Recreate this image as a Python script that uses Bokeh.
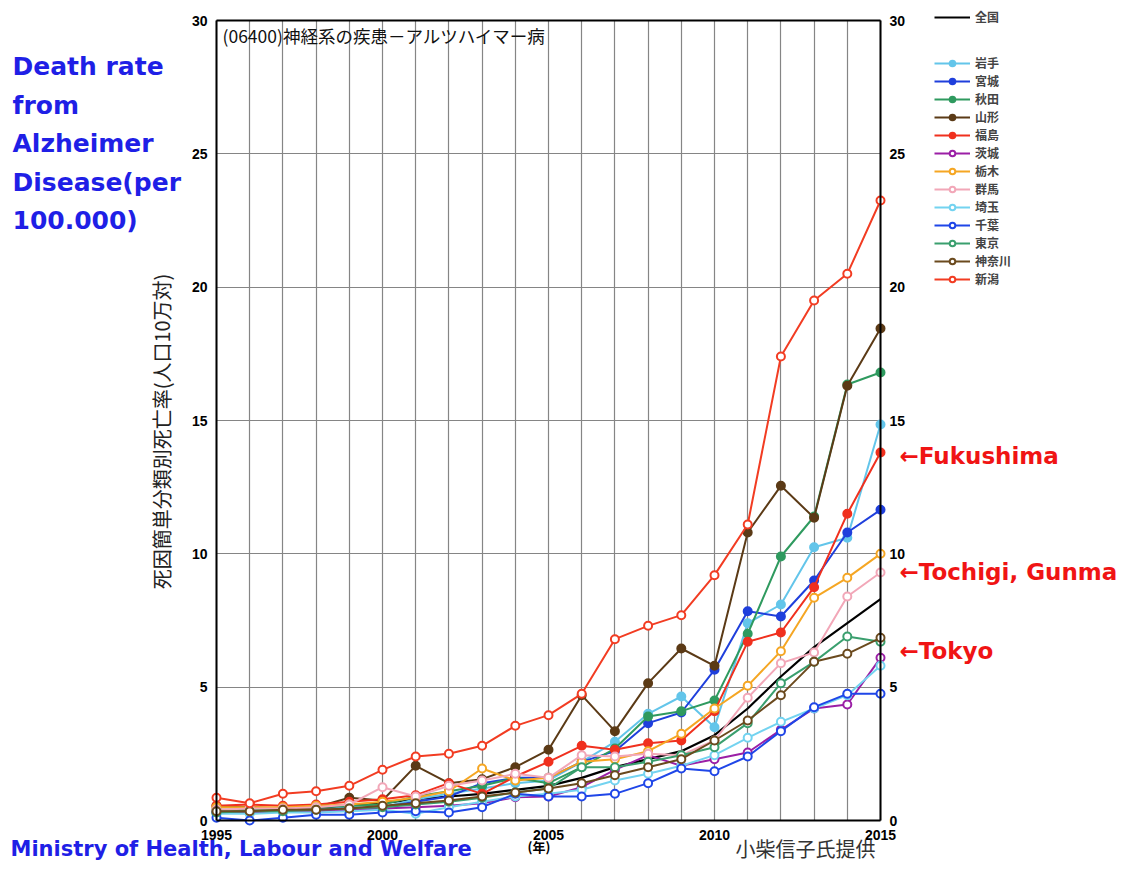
import math
from bokeh.plotting import figure
from bokeh.models import Range1d, FixedTicker, LinearAxis, Legend, LegendItem, Label, Grid
from bokeh.embed import file_html
from bokeh.resources import INLINE

years = list(range(1995, 2016))

national = [0.3, 0.35, 0.4, 0.45, 0.55, 0.65, 0.8, 0.9, 1.0, 1.15, 1.3, 1.6, 2.0, 2.3, 2.6, 3.2, 4.2, 5.4, 6.5, 7.4, 8.3]
iwate = [0.3, 0.35, 0.4, 0.4, 0.5, 0.5, 0.8, 1.0, 1.2, 1.4, 1.5, 2.2, 2.95, 4.0, 4.65, 3.5, 7.4, 8.1, 10.25, 10.6, 14.85]
miyagi = [0.3, 0.3, 0.35, 0.4, 0.45, 0.5, 0.7, 0.9, 1.4, 1.6, 1.6, 2.2, 2.6, 3.65, 4.05, 5.65, 7.85, 7.65, 9.0, 10.8, 11.65]
akita = [0.4, 0.4, 0.45, 0.5, 0.55, 0.6, 0.9, 1.1, 1.3, 1.6, 1.4, 2.0, 2.7, 3.9, 4.1, 4.5, 7.0, 9.9, 11.4, 16.35, 16.8]
yamagata = [0.55, 0.5, 0.45, 0.5, 0.85, 0.75, 2.05, 1.4, 1.55, 2.0, 2.65, 4.7, 3.35, 5.15, 6.45, 5.8, 10.8, 12.55, 11.35, 16.3, 18.45]
fukushima = [0.55, 0.6, 0.55, 0.6, 0.7, 0.8, 0.95, 1.4, 1.0, 1.65, 2.2, 2.8, 2.65, 2.9, 3.0, 4.1, 6.7, 7.05, 8.75, 11.5, 13.8]
ibaraki = [0.3, 0.3, 0.35, 0.35, 0.4, 0.45, 0.5, 0.55, 0.65, 0.87, 0.9, 1.25, 1.9, 2.45, 2.05, 2.3, 2.55, 3.4, 4.2, 4.35, 6.1]
tochigi = [0.5, 0.5, 0.5, 0.55, 0.6, 0.7, 0.85, 1.1, 1.95, 1.5, 1.6, 2.2, 2.3, 2.6, 3.25, 4.2, 5.05, 6.35, 8.35, 9.1, 10.0]
gunma = [0.4, 0.45, 0.45, 0.5, 0.6, 1.25, 0.9, 1.3, 1.5, 1.75, 1.6, 2.45, 2.4, 2.5, 2.45, 3.0, 4.6, 5.9, 6.3, 8.4, 9.3]
saitama = [0.25, 0.25, 0.3, 0.3, 0.35, 0.4, 0.25, 0.5, 0.7, 0.9, 1.0, 1.15, 1.5, 1.75, 2.05, 2.45, 3.1, 3.7, 4.2, 4.7, 5.8]
chiba = [0.1, 0.0, 0.1, 0.22, 0.22, 0.3, 0.35, 0.3, 0.5, 1.0, 0.9, 0.9, 1.0, 1.4, 1.95, 1.85, 2.4, 3.35, 4.25, 4.75, 4.75]
tokyo = [0.3, 0.35, 0.35, 0.4, 0.45, 0.5, 0.6, 0.7, 0.85, 1.05, 1.2, 2.0, 2.0, 2.2, 2.45, 2.75, 3.65, 5.15, 5.95, 6.9, 6.7]
kanagawa = [0.35, 0.35, 0.4, 0.4, 0.45, 0.55, 0.65, 0.75, 0.9, 1.05, 1.2, 1.4, 1.7, 2.0, 2.3, 3.0, 3.75, 4.7, 5.95, 6.25, 6.85]
niigata = [0.85, 0.65, 1.0, 1.1, 1.3, 1.9, 2.4, 2.5, 2.8, 3.55, 3.95, 4.75, 6.8, 7.3, 7.7, 9.2, 11.1, 17.4, 19.5, 20.5, 23.25]

names = ["岩手", "宮城", "秋田", "山形", "福島", "茨城", "栃木", "群馬", "埼玉", "千葉", "東京", "神奈川", "新潟"]
values = [iwate, miyagi, akita, yamagata, fukushima, ibaraki, tochigi, gunma, saitama, chiba, tokyo, kanagawa, niigata]
colors = ["#63c5ea", "#1f3fdc", "#2f9a5f", "#5b3a16", "#f0301e", "#9b1fa6", "#f5a623",
          "#f2a7b8", "#73d3f0", "#1f46e8", "#3a9f6e", "#6b4a1e", "#f23c22"]
filled = [True, True, True, True, True, False, False, False, False, False, False, False, False]

x_ticks = [1995, 2000, 2005, 2010, 2015]
y_ticks = [0, 5, 10, 15, 20, 25, 30]

title_text = "(06400)神経系の疾患－アルツハイマー病"
ylabel_text = "死因簡単分類別死亡率(人口10万対)"

# ---- geometry (figure pixels) ----
W, H = 1119, 863
X0, X1 = 1995, 2015
Y0, Y1 = 0, 30
PL, PR = 216, 880   # chart-area left/right in figure px
PT, PB = 20, 820    # chart-area top/bottom in figure px
sx = (PR - PL) / (X1 - X0)
sy = (PB - PT) / (Y1 - Y0)

p = figure(width=W, height=H, output_backend="svg", toolbar_location=None,
           x_range=Range1d(X0 - PL / sx, X1 + (W - PR) / sx),
           y_range=Range1d(Y0 - (H - PB) / sy, Y1 + PT / sy),
           x_axis_location=None, y_axis_location=None,
           min_border=0, min_border_left=0, min_border_right=0, min_border_top=0, min_border_bottom=0,
           background_fill_color="white", border_fill_color="white")
p.outline_line_color = None
p.xgrid.visible = False
p.ygrid.visible = False

# grid lines limited to chart area
has_cross = "cross_bounds" in Grid.properties()
if has_cross:
    gx = Grid(dimension=0, ticker=FixedTicker(ticks=years), bounds=(X0, X1), cross_bounds=(Y0, Y1),
              grid_line_color="#858585", grid_line_width=1.2)
    gy = Grid(dimension=1, ticker=FixedTicker(ticks=y_ticks), bounds=(Y0, Y1), cross_bounds=(X0, X1),
              grid_line_color="#858585", grid_line_width=1.2)
    p.add_layout(gx)
    p.add_layout(gy)
else:
    p.segment(x0=years, y0=[Y0] * len(years), x1=years, y1=[Y1] * len(years),
              line_color="#858585", line_width=1.2)
    p.segment(x0=[X0] * len(y_ticks), y0=y_ticks, x1=[X1] * len(y_ticks), y1=y_ticks,
              line_color="#858585", line_width=1.2)

# axes drawn at fixed locations around the chart area
ax_left = LinearAxis(ticker=FixedTicker(ticks=y_ticks), fixed_location=X0, bounds=(Y0, Y1))
ax_right = LinearAxis(ticker=FixedTicker(ticks=y_ticks), fixed_location=X1, bounds=(Y0, Y1))
ax_bottom = LinearAxis(ticker=FixedTicker(ticks=x_ticks), fixed_location=Y0, bounds=(X0, X1))
ax_top = LinearAxis(ticker=FixedTicker(ticks=[]), fixed_location=Y1, bounds=(X0, X1))
p.add_layout(ax_left, "left")
p.add_layout(ax_right, "right")
p.add_layout(ax_bottom, "below")
p.add_layout(ax_top, "above")

for ax in [ax_left, ax_right, ax_bottom, ax_top]:
    ax.axis_line_color = "black"
    ax.axis_line_width = 2
    ax.major_tick_line_color = None
    ax.minor_tick_line_color = None
    ax.major_label_text_font = "Liberation Sans"
    ax.major_label_text_font_style = "bold"
    ax.major_label_text_font_size = "14px"
    ax.major_label_text_color = "black"
    ax.major_label_standoff = 3
ax_top.major_label_text_alpha = 0

# national line
nat_r = p.line(years, national, line_color="black", line_width=2.2)

items = []
for name, vals, col, fl in zip(names, values, colors, filled):
    lr = p.line(years, vals, line_color=col, line_width=2)
    sr = p.scatter(years, vals, marker="circle", size=8, line_color=col, line_width=2,
                   fill_color=col if fl else "white")
    items.append(LegendItem(label=name, renderers=[lr, sr]))

leg_font = "Noto Sans CJK JP"
common = dict(orientation="vertical", padding=0, margin=0, spacing=1,
              glyph_width=36, glyph_height=14, label_height=14, label_standoff=5,
              border_line_color=None, background_fill_alpha=0,
              label_text_font=leg_font, label_text_font_size="12px", label_text_font_style="bold")
leg1 = Legend(items=[LegendItem(label="全国", renderers=[nat_r])], location=(934, H - 25), **common)
leg2 = Legend(items=items, location=(934, H - 287), **common)
p.add_layout(leg1)
p.add_layout(leg2)


def dx(px):
    # picture px -> data x
    return X0 + (px - PL) / sx


def dy(py):
    return Y0 + (PB - py) / sy


def lab(text, px, py, size, color="black", font="DejaVu Sans", style="bold", align="left", angle=0):
    p.add_layout(Label(x=dx(px), y=dy(py), text=text, text_font=font, text_font_size=size,
                       text_font_style=style, text_color=color, text_align=align,
                       text_baseline="middle", angle=angle))


lab(title_text, 222, 35, "17.5px", color="#111111", font="Noto Sans CJK JP", style="normal")
lab(ylabel_text, 161, 431, "20px", color="#222222", font="Noto Sans CJK JP", style="normal",
    align="center", angle=math.pi / 2)

blue = "#1f1fe6"
for i, t in enumerate(["Death rate", "from", "Alzheimer", "Disease(per", "100.000)"]):
    lab(t, 12, 66 + i * 38.5, "25px", color=blue)

lab("Ministry of Health, Labour and Welfare", 10, 848, "21px", color=blue)
lab("(年)", 527, 846, "13px", color="black", font="Noto Sans CJK JP")
lab("小柴信子氏提供", 735, 848, "20px", color="#333333", font="Noto Sans CJK JP", style="normal")

red = "#f01414"
lab("←Fukushima", 899, 455, "23px", color=red)
lab("←Tochigi, Gunma", 899, 571, "23px", color=red)
lab("←Tokyo", 899, 650, "23px", color=red)

open("out.html", "w").write(file_html(p, INLINE))
